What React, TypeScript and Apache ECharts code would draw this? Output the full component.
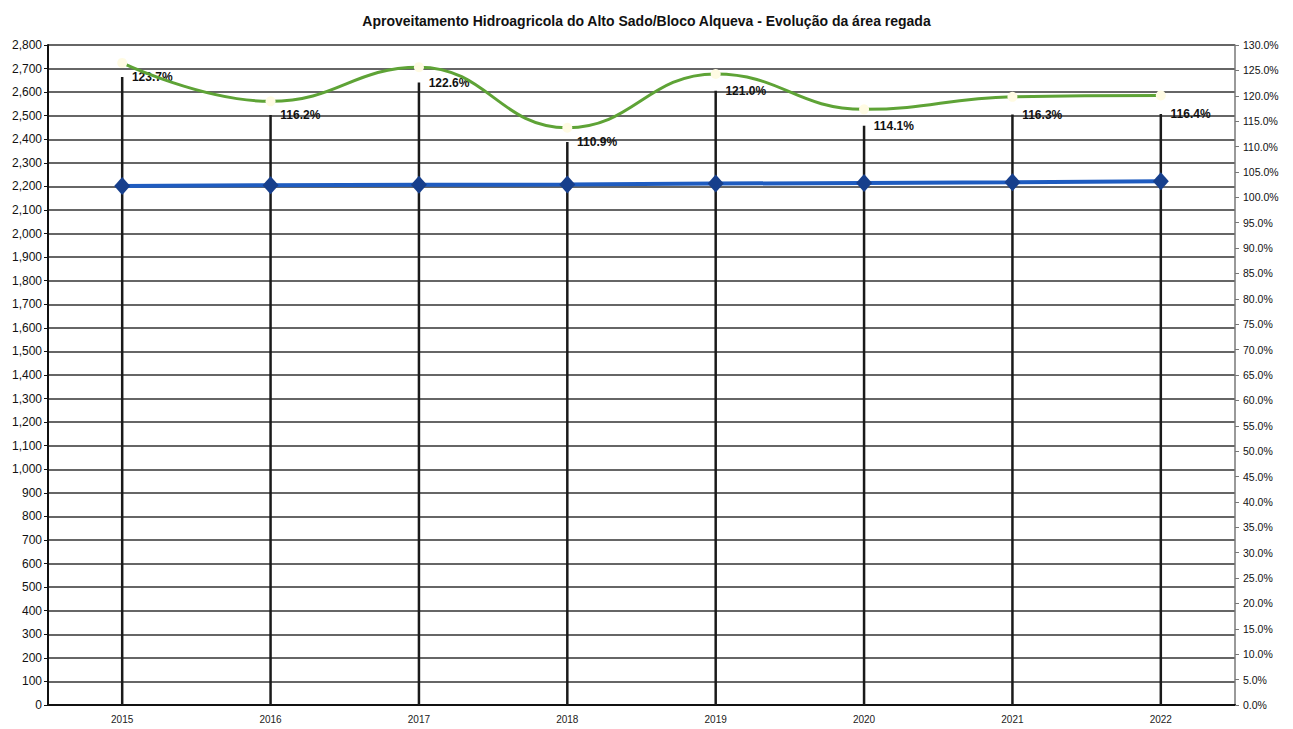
import React, { useEffect, useRef } from "react";
import * as echarts from "echarts";

// Years shown on the category axis
const years = ["2015", "2016", "2017", "2018", "2019", "2020", "2021", "2022"];

// Area beneficiada (ha) – blue line, left axis
const areaBase = [2202, 2205, 2207, 2208, 2212, 2215, 2218, 2222];

// Área regada (ha) – green smoothed line, left axis
const areaRegada = [2724, 2561, 2706, 2449, 2677, 2527, 2580, 2586];

// Taxa de rega (%) – drop lines with labels, right axis
const taxaRega = [123.7, 116.2, 122.6, 110.9, 121.0, 114.1, 116.3, 116.4];

const titleText =
  "Aproveitamento Hidroagricola do Alto Sado/Bloco Alqueva - Evolução da área regada";

const FONT = "'Liberation Sans', Arial, sans-serif";

export default function App() {
  const ref = useRef<HTMLDivElement>(null);

  useEffect(() => {
    if (!ref.current) return;
    const chart = echarts.init(ref.current, undefined, { renderer: "svg" });
    chart.setOption({
      animation: false,
      backgroundColor: "#ffffff",
      title: {
        text: titleText,
        left: "center",
        top: 9,
        textStyle: { fontFamily: FONT, fontSize: 14, fontWeight: "bold", color: "#111" },
      },
      grid: { left: 48, right: 58, top: 45, bottom: 24 },
      xAxis: {
        type: "category",
        data: years,
        boundaryGap: true,
        axisLine: { show: true, lineStyle: { color: "#111", width: 2 } },
        axisTick: { show: false },
        axisLabel: { fontFamily: FONT, fontSize: 10, color: "#222", margin: 9 },
        splitLine: { show: false },
      },
      yAxis: [
        {
          type: "value",
          min: 0,
          max: 2800,
          interval: 100,
          position: "left",
          axisLine: { show: true, lineStyle: { color: "#111", width: 2 } },
          axisTick: { show: true, length: 4, lineStyle: { color: "#111" } },
          axisLabel: {
            fontFamily: FONT,
            fontSize: 12,
            color: "#111",
            margin: 6,
            formatter: (v: number) => v.toLocaleString("en-US"),
          },
          splitLine: { show: true, lineStyle: { color: "#333", width: 1.5 } },
        },
        {
          type: "value",
          min: 0,
          max: 130,
          interval: 5,
          position: "right",
          axisLine: { show: true, lineStyle: { color: "#777", width: 1.5 } },
          axisTick: { show: true, length: 4, lineStyle: { color: "#777" } },
          axisLabel: {
            fontFamily: FONT,
            fontSize: 10.5,
            color: "#111",
            margin: 8,
            formatter: (v: number) => v.toFixed(1) + "%",
          },
          splitLine: { show: false },
        },
      ],
      series: [
        {
          name: "Taxa de rega",
          type: "bar",
          yAxisIndex: 1,
          data: taxaRega,
          barWidth: 2.5,
          z: 1,
          itemStyle: { color: "#1a1a1a" },
          label: {
            show: true,
            position: [11, 0],
            align: "left",
            verticalAlign: "middle",
            fontFamily: FONT,
            fontSize: 12,
            fontWeight: "bold",
            color: "#111",
            formatter: (p: any) => Number(p.value).toFixed(1) + "%",
          },
        },
        {
          name: "Área regada",
          type: "line",
          yAxisIndex: 0,
          data: areaRegada,
          smooth: 0.45,
          z: 3,
          lineStyle: { color: "#5ea336", width: 3 },
          symbol: "circle",
          symbolSize: 10,
          itemStyle: { color: "#fffbe3", borderWidth: 0 },
        },
        {
          name: "Área beneficiada",
          type: "line",
          yAxisIndex: 0,
          data: areaBase,
          z: 4,
          lineStyle: { color: "#1f5cc0", width: 4 },
          symbol: "diamond",
          symbolSize: [16, 18],
          itemStyle: { color: "#173f8c", borderWidth: 0 },
        },
      ],
    });
    return () => chart.dispose();
  }, []);

  return (
    <div
      ref={ref}
      style={{ position: "fixed", left: 0, top: 0, width: 1293, height: 729, background: "#fff" }}
    />
  );
}
